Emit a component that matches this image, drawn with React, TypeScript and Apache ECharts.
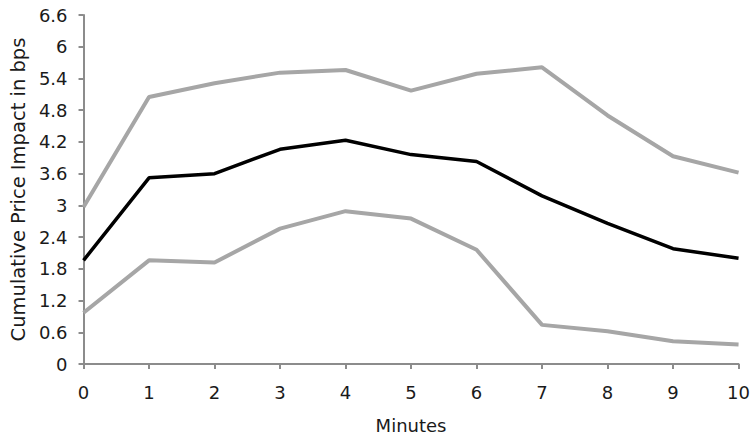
import React, { useEffect, useRef } from "react";
import * as echarts from "echarts";

const minutes = [0, 1, 2, 3, 4, 5, 6, 7, 8, 9, 10];
const upperBand = [2.97, 5.05, 5.31, 5.51, 5.56, 5.17, 5.49, 5.61, 4.7, 3.93, 3.62];
const meanImpact = [1.96, 3.52, 3.6, 4.06, 4.23, 3.96, 3.83, 3.18, 2.66, 2.18, 2.0];
const lowerBand = [0.97, 1.96, 1.92, 2.56, 2.89, 2.75, 2.16, 0.74, 0.62, 0.43, 0.37];

const FONT = "DejaVu Sans";

export default function App() {
  const ref = useRef<HTMLDivElement>(null);
  useEffect(() => {
    if (!ref.current) return;
    const chart = echarts.init(ref.current, null, { renderer: "svg" });
    const pair = (arr: number[]) => minutes.map((m, i) => [m, arr[i]]);
    const axisLine = { lineStyle: { color: "#8c8c8c", width: 2 } };
    chart.setOption({
      animation: false,
      backgroundColor: "#ffffff",
      grid: { left: 82, right: 12, top: 15, bottom: 70 },
      xAxis: {
        type: "value",
        min: 0,
        max: 10,
        interval: 1,
        name: "Minutes",
        nameLocation: "middle",
        nameGap: 52,
        nameTextStyle: { fontFamily: FONT, fontSize: 18, color: "#1a1a1a" },
        axisLine,
        axisTick: { show: true, length: 5, lineStyle: { color: "#8c8c8c", width: 2 } },
        axisLabel: { fontFamily: FONT, fontSize: 18, color: "#1a1a1a", margin: 19 },
        splitLine: { show: false },
      },
      yAxis: {
        type: "value",
        min: 0,
        max: 6.6,
        interval: 0.6,
        name: "Cumulative Price Impact in bps",
        nameLocation: "middle",
        nameGap: 55,
        nameTextStyle: { fontFamily: FONT, fontSize: 19.5, color: "#1a1a1a" },
        axisLine: { show: true, ...axisLine },
        axisTick: { show: true, length: 5, lineStyle: { color: "#8c8c8c", width: 2 } },
        axisLabel: {
          fontFamily: FONT,
          fontSize: 18,
          color: "#1a1a1a",
          margin: 16,
          formatter: (v: number) => String(Math.round(v * 10) / 10),
        },
        splitLine: { show: false },
      },
      series: [
        {
          type: "line",
          data: pair(upperBand),
          symbol: "none",
          lineStyle: { color: "#a6a6a6", width: 4 },
        },
        {
          type: "line",
          data: pair(lowerBand),
          symbol: "none",
          lineStyle: { color: "#a6a6a6", width: 4 },
        },
        {
          type: "line",
          data: pair(meanImpact),
          symbol: "none",
          lineStyle: { color: "#000000", width: 3.5 },
        },
      ],
    });
    return () => chart.dispose();
  }, []);
  return <div ref={ref} style={{ width: 753, height: 439, position: "absolute", left: 0, top: 0 }} />;
}
